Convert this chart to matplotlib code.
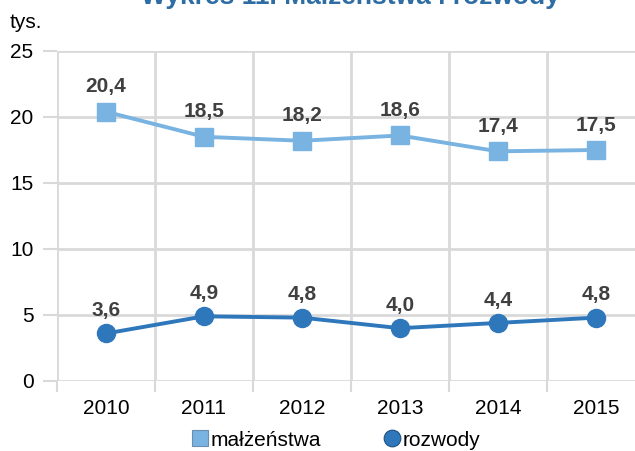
import numpy as np
import matplotlib.pyplot as plt
from matplotlib.lines import Line2D

plt.rcParams['font.family'] = ['Liberation Sans', 'DejaVu Sans']

years = ["2010", "2011", "2012", "2013", "2014", "2015"]
malzenstwa = [20.4, 18.5, 18.2, 18.6, 17.4, 17.5]
rozwody = [3.6, 4.9, 4.8, 4.0, 4.4, 4.8]
y_ticks = [0, 5, 10, 15, 20, 25]

c_light = "#79b3e1"
c_dark = "#2e77bb"
grid_c = "#d9d9d9"
lab_c = "#404040"

fig = plt.figure(figsize=(6.35, 4.51), dpi=100)
# plot area runs past the right edge, as in the original
ax = fig.add_axes([57 / 635, 70 / 451, 588 / 635, 330 / 451])

x = np.arange(len(years))
ax.plot(x, malzenstwa, color=c_light, lw=2.8, marker="s", ms=13, zorder=3)
ax.plot(x, rozwody, color=c_dark, lw=2.8, marker="o", ms=13, zorder=3)

# data labels with decimal comma
for xi, v in zip(x, malzenstwa):
    ax.annotate(f"{v:.1f}".replace(".", ","), (xi, v), xytext=(0, 18),
                textcoords="offset points", ha="center", va="center",
                fontsize=15, fontweight="bold", color=lab_c)
for xi, v in zip(x, rozwody):
    ax.annotate(f"{v:.1f}".replace(".", ","), (xi, v), xytext=(0, 16.5),
                textcoords="offset points", ha="center", va="center",
                fontsize=15, fontweight="bold", color=lab_c)

ax.set_xlim(-0.5, 5.5)
ax.set_ylim(0, 25)
ax.set_yticks(y_ticks)
ax.set_xticks(x)
ax.set_xticklabels(years)
ax.set_xticks(np.arange(-0.5, 6, 1), minor=True)

ax.grid(axis="y", which="major", color=grid_c, lw=2)
ax.grid(axis="x", which="minor", color=grid_c, lw=2)
ax.set_axisbelow(True)
for s in ax.spines.values():
    s.set_visible(False)

ax.tick_params(axis="y", length=10, width=1.5, color=grid_c, labelsize=15,
               pad=7)
ax.tick_params(axis="x", which="major", length=0, labelsize=15, pad=13)
ax.tick_params(axis="x", which="minor", length=8, width=1.5, color=grid_c)

fig.text(10 / 635, 1 - 22 / 451, "tys.", fontsize=15, va="center")
fig.text(350 / 635, 1 - 4 / 451, "Wykres 11. Małżeństwa i rozwody",
         fontsize=19, fontweight="bold", color="#2e6da4", ha="center",
         va="baseline")

handles = [
    Line2D([], [], ls="none", marker="s", ms=11.5, mfc=c_light,
           mec="#6b8db0", mew=0.8),
    Line2D([], [], ls="none", marker="o", ms=12, mfc=c_dark,
           mec="#1f4f80", mew=0.8),
]
fig.legend(handles, ["małżeństwa", "rozwody"], loc="center",
           bbox_to_anchor=(336 / 635, 1 - 440 / 451), ncol=2,
           frameon=False, fontsize=15, handlelength=0.8,
           handletextpad=0.1, columnspacing=3.0, borderpad=0)

fig.savefig("out.png", dpi=100)
